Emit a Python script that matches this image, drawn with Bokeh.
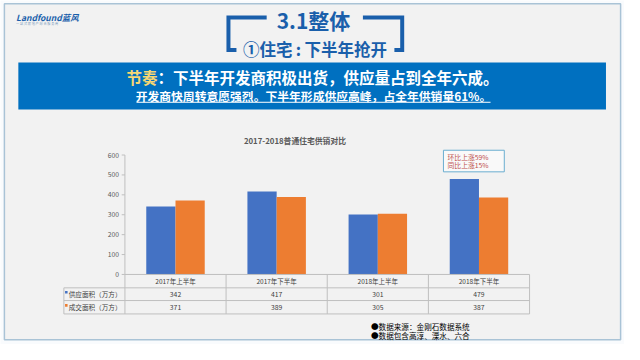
from bokeh.plotting import figure
from bokeh.models import Range1d, ColumnDataSource
from bokeh.transform import dodge
from bokeh.core.properties import value
from bokeh.embed import file_html
from bokeh.resources import INLINE

# ---- data ----
categories = ["2017年上半年", "2017年下半年", "2018年上半年", "2018年下半年"]
supply = [342, 417, 301, 479]
deal = [371, 389, 305, 387]
series_names = ["供应面积（万方）", "成交面积（万方）"]
y_ticks = [0, 100, 200, 300, 400, 500, 600]
chart_title = "2017-2018普通住宅供销对比"
note_lines = ["环比上涨59%", "同比上涨15%"]
footnotes = ["●数据来源：金刚石数据系统", "●数据包含高淳、溧水、六合"]

FONT = value("Noto Sans CJK SC")
BLUE = "#4472c4"
ORANGE = "#ed7d31"
GRID = "#bfbfbf"
DARKBLUE = "#1a5fab"

p = figure(width=624, height=344, x_range=Range1d(0, 640), y_range=Range1d(360, 0),
           x_axis_type=None, y_axis_type=None, output_backend="svg",
           toolbar_location=None, min_border=0)
p.grid.visible = False
p.outline_line_color = None
p.background_fill_color = "#f9fbfd"
p.border_fill_color = "#f9fbfd"

# page -> chart ranges
p.extra_x_ranges = {"cats": Range1d(-1.730, 4.4386)}
p.extra_y_ranges = {"bars": Range1d(-351.8, 1376.2)}


def txt(x, y, t, size, color="#000000", align="left", style="normal", **kw):
    p.text(x=[x], y=[y], text=[t], text_font=FONT, text_font_size=f"{size}px",
           text_color=color, text_align=align, text_baseline="middle",
           text_font_style=style, **kw)


# slide background and border
p.quad(left=4, right=636, top=3.5, bottom=355, fill_color="#f2f2f2",
       line_color="#a9c3d6", line_width=1.5)

# logo
txt(16, 17, "Landfound蓝风", 8.5, color=DARKBLUE, style="bold italic")
txt(16, 24, "一 站 式 房 地 产 综 合 服 务 商", 3.2, color="#7f9fbf")

# header brackets and titles
p.multi_line(xs=[[273, 233.8, 233.8, 242], [371.7, 412, 412, 404]],
             ys=[[17.7, 17.7, 51.7, 51.7], [17.7, 17.7, 51.7, 51.7]],
             line_color=DARKBLUE, line_width=4, line_join="miter")
txt(321, 20.5, "3.1整体", 21, color=DARKBLUE, align="center", style="bold")
txt(322.5, 51, "①住宅\u2009:\u2009下半年抢开", 16.5, color=DARKBLUE, align="center", style="bold")

# banner
p.quad(left=18.3, right=621, top=65, bottom=114, fill_color="#0070c0", line_color=None)
txt(161, 80, "节奏", 15.5, color="#f7d774", align="right", style="bold")
txt(161, 80, "：下半年开发商积极出货，供应量占到全年六成。", 15.5, color="#ffffff", style="bold")
txt(321, 99.5, "开发商快周转意愿强烈。下半年形成供应高峰，占全年供销量61%。", 11.8,
    color="#ffffff", align="center", style="bold")
p.segment(x0=[139.5], y0=[106.5], x1=[502.6], y1=[106.5], line_color="#ffffff", line_width=1)

# chart title
txt(302, 146, chart_title, 7.8, color="#595959", align="center", style="bold")

# y axis
p.segment(x0=127.6, x1=127.6, y0=0, y1=600, y_range_name="bars", line_color=GRID, line_width=1)
p.segment(x0=[124.3] * len(y_ticks), x1=[127.6] * len(y_ticks), y0=y_ticks, y1=y_ticks,
          y_range_name="bars", line_color=GRID, line_width=1)
p.text(x=[121.5] * len(y_ticks), y=y_ticks, text=[str(t) for t in y_ticks], y_range_name="bars",
       text_font=FONT, text_font_size="6.8px", text_color="#595959",
       text_align="right", text_baseline="middle")

# bars
src = ColumnDataSource(dict(idx=list(range(len(categories))), cat=categories,
                            supply=supply, deal=deal,
                            supply_t=[str(v) for v in supply], deal_t=[str(v) for v in deal]))
bw = 0.289
p.vbar(x=dodge("idx", -bw / 2), top="supply", bottom=0, width=bw, source=src,
       x_range_name="cats", y_range_name="bars", fill_color=BLUE, line_color=None)
p.vbar(x=dodge("idx", bw / 2), top="deal", bottom=0, width=bw, source=src,
       x_range_name="cats", y_range_name="bars", fill_color=ORANGE, line_color=None)

# data table
row_y = [286.7, 300.7, 314.0, 328.0]
p.segment(x0=[127.6], x1=[542.6], y0=[row_y[0]], y1=[row_y[0]], line_color=GRID)
p.segment(x0=[65] * 3, x1=[542.6] * 3, y0=row_y[1:], y1=row_y[1:], line_color=GRID)
bounds = [i - 0.5 for i in range(len(categories) + 1)]
p.segment(x0=bounds, x1=bounds, y0=[row_y[0]] * len(bounds), y1=[row_y[3]] * len(bounds),
          x_range_name="cats", line_color=GRID)
p.segment(x0=[65], x1=[65], y0=[row_y[1]], y1=[row_y[3]], line_color=GRID)

p.text(x="idx", y=(row_y[0] + row_y[1]) / 2, text="cat", source=src, x_range_name="cats",
       text_font=FONT, text_font_size="6.5px", text_color="#404040",
       text_align="center", text_baseline="middle")
p.text(x="idx", y=(row_y[1] + row_y[2]) / 2, text="supply_t", source=src, x_range_name="cats",
       text_font=FONT, text_font_size="6.8px", text_color="#404040",
       text_align="center", text_baseline="middle")
p.text(x="idx", y=(row_y[2] + row_y[3]) / 2, text="deal_t", source=src, x_range_name="cats",
       text_font=FONT, text_font_size="6.8px", text_color="#404040",
       text_align="center", text_baseline="middle")

for i, (name, col) in enumerate(zip(series_names, [BLUE, ORANGE])):
    yc = (row_y[1 + i] + row_y[2 + i]) / 2
    p.rect(x=[67.5], y=[yc - 2], width=2.6, height=2.8, fill_color=col, line_color=None)
    txt(70, yc, name, 6.6, color="#404040")

# annotation box
p.quad(left=454.3, right=516.7, top=156.7, bottom=179.3, fill_color="#f9f9f9",
       line_color="#6aaed0", line_width=1)
txt(458.5, 163.5, note_lines[0], 6.8, color="#c0504d")
txt(458.5, 172.5, note_lines[1], 6.8, color="#c0504d")

# footnotes
txt(380, 340.7, footnotes[0], 7.6, color="#000000")
txt(380, 350.5, footnotes[1], 7.6, color="#000000")

open("out.html", "w").write(file_html(p, INLINE))
